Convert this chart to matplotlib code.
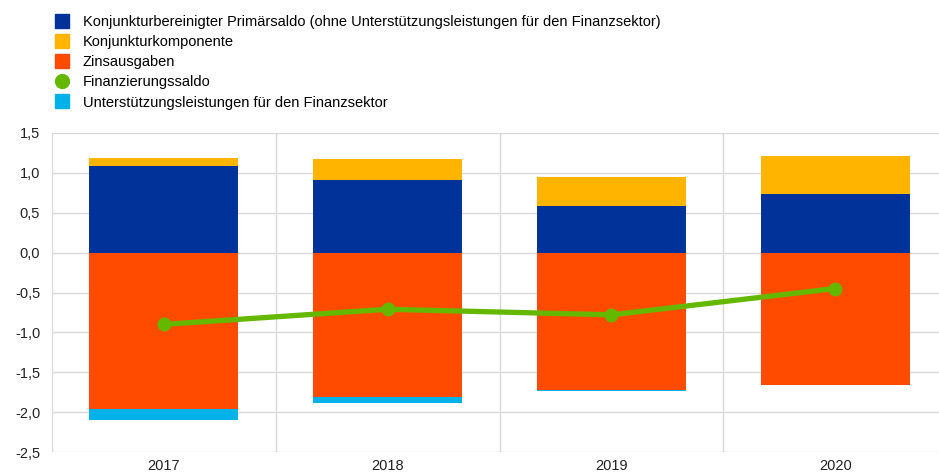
import matplotlib.pyplot as plt
from matplotlib.lines import Line2D
import numpy as np

years = ['2017', '2018', '2019', '2020']
primaersaldo = [1.09, 0.915, 0.59, 0.74]
konjunktur = [0.10, 0.26, 0.36, 0.47]
zinsausgaben = [-1.96, -1.81, -1.72, -1.66]
finanzsektor = [-0.14, -0.08, -0.01, 0.0]
finanzierungssaldo = [-0.90, -0.71, -0.78, -0.45]

labels = ['Konjunkturbereinigter Primärsaldo (ohne Unterstützungsleistungen für den Finanzsektor)',
          'Konjunkturkomponente',
          'Zinsausgaben',
          'Finanzierungssaldo',
          'Unterstützungsleistungen für den Finanzsektor']

c_blue = '#003299'
c_yellow = '#FFB400'
c_orange = '#FF4B00'
c_green = '#65B800'
c_cyan = '#00B1EA'


def main():
    plt.rcParams['font.family'] = ['Liberation Sans', 'DejaVu Sans']
    fig = plt.figure(figsize=(9.39, 4.75), dpi=100)
    ax = fig.add_axes([52/939, 23/475, 1 - 52/939, 319/475])

    x = np.arange(len(years))
    w = 0.665
    ax.bar(x, primaersaldo, w, color=c_blue, zorder=2)
    ax.bar(x, konjunktur, w, bottom=primaersaldo, color=c_yellow, zorder=2)
    ax.bar(x, zinsausgaben, w, color=c_orange, zorder=2)
    ax.bar(x, finanzsektor, w, bottom=zinsausgaben, color=c_cyan, zorder=2)
    ax.plot(x, finanzierungssaldo, color=c_green, lw=3.8, marker='o', ms=9, zorder=3)

    ax.set_ylim(-2.5, 1.5)
    ax.set_xlim(-0.5, 3.464)
    yt = np.arange(-2.5, 1.51, 0.5)
    ax.set_yticks(yt)
    ax.set_yticklabels([f'{v:.1f}'.replace('.', ',') for v in yt])
    ax.set_xticks(x)
    ax.set_xticklabels(years)
    ax.set_xticks([-0.5, 0.5, 1.5, 2.5], minor=True)
    ax.grid(axis='y', color='#d9d9d9', lw=1, zorder=0)
    ax.grid(axis='x', which='minor', color='#d9d9d9', lw=1, zorder=0)
    ax.tick_params(axis='both', which='both', length=0, labelsize=10.5, colors='#222222')
    ax.tick_params(axis='x', pad=5)
    ax.tick_params(axis='y', pad=8.5)
    for s in ax.spines.values():
        s.set_visible(False)

    handles = [Line2D([], [], ls='', marker='s', ms=10, color=c_blue),
               Line2D([], [], ls='', marker='s', ms=10, color=c_yellow),
               Line2D([], [], ls='', marker='s', ms=10, color=c_orange),
               Line2D([], [], ls='', marker='o', ms=10, color=c_green),
               Line2D([], [], ls='', marker='s', ms=10, color=c_cyan)]
    fig.legend(handles, labels, loc='upper left', bbox_to_anchor=(53/939, 1 - 15/475),
               frameon=False, fontsize=10.5, handlelength=1.2, handletextpad=0.84,
               labelspacing=0.42, borderaxespad=0, borderpad=0)

    fig.savefig('out.png', dpi=100)


if __name__ == '__main__':
    main()
